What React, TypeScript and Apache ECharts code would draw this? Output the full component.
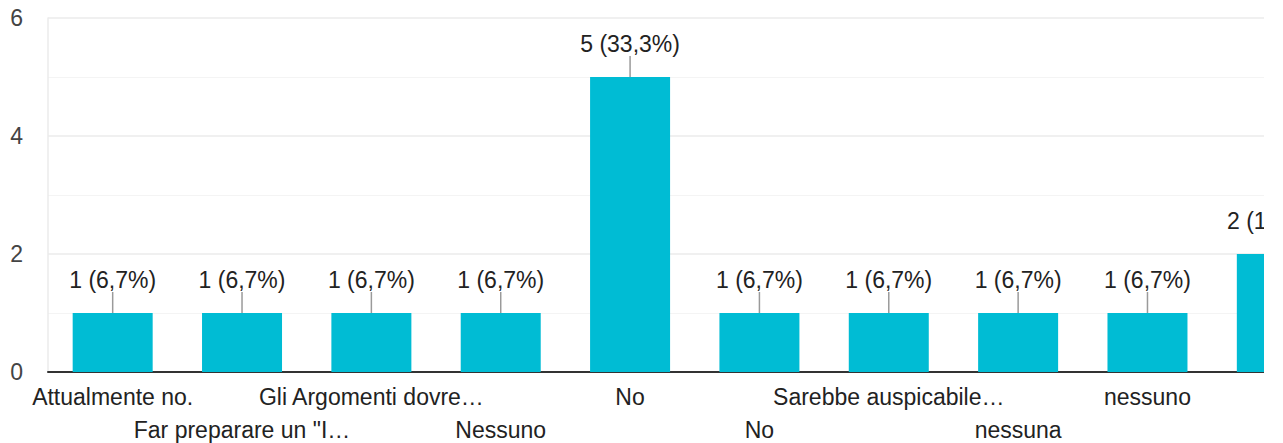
import React, { useEffect, useRef } from "react";
import * as echarts from "echarts";

const categories = [
  "Attualmente no.",
  'Far preparare un "I…',
  "Gli Argomenti dovre…",
  "Nessuno",
  "No",
  "No",
  "Sarebbe auspicabile…",
  "nessuna",
  "nessuno",
  "no",
];
const values = [1, 1, 1, 1, 5, 1, 1, 1, 1, 2];
const yTicks = [0, 2, 4, 6];

const FONT = "Arial, 'Liberation Sans', sans-serif";

export default function App() {
  const ref = useRef<HTMLDivElement>(null);
  useEffect(() => {
    if (!ref.current) return;
    const chart = echarts.init(ref.current, undefined, { renderer: "svg" });
    const total = values.reduce((a, b) => a + b, 0);
    const pct = (v: number) => ((v / total) * 100).toFixed(1).replace(".", ",");
    chart.setOption({
      animation: false,
      textStyle: { fontFamily: FONT },
      grid: {
        left: 48,
        right: 58.5,
        top: 18,
        bottom: 71,
        containLabel: false,
        outerBoundsMode: "none",
      },
      xAxis: {
        type: "category",
        data: categories,
        axisTick: { show: false },
        axisLine: { lineStyle: { color: "#333", width: 2 } },
        axisLabel: {
          interval: 0,
          color: "#222",
          fontSize: 23,
          fontFamily: FONT,
          lineHeight: 33,
          margin: 8,
          formatter: (v: string, i: number) => (i % 2 === 1 ? "\n" + v : v),
        },
      },
      yAxis: {
        type: "value",
        min: yTicks[0],
        max: yTicks[yTicks.length - 1],
        interval: 2,
        axisLine: { show: true, lineStyle: { color: "#ebebeb", width: 1.5 } },
        axisTick: { show: false },
        axisLabel: { color: "#444", fontSize: 23, fontFamily: FONT, margin: 25 },
        splitLine: { lineStyle: { color: "#ebebeb", width: 1.5 } },
        minorTick: { show: false, splitNumber: 2 },
        minorSplitLine: { show: true, lineStyle: { color: "#f4f4f4", width: 1 } },
      },
      series: [
        {
          type: "bar",
          data: values,
          barWidth: 80,
          itemStyle: { color: "#00BCD4" },
          label: {
            show: true,
            position: "top",
            distance: 22,
            color: "#222",
            fontSize: 23,
            fontFamily: FONT,
            formatter: (p: any) => `${p.value} (${pct(p.value)}%)`,
          },
          z: 2,
        },
        {
          type: "custom",
          data: values.map((v, i) => [i, v]),
          encode: { x: 0, y: 1 },
          z: 3,
          renderItem: (params: any, api: any) => {
            const pt = api.coord([api.value(0), api.value(1)]);
            return {
              type: "line",
              shape: { x1: pt[0], y1: pt[1], x2: pt[0], y2: pt[1] - 21 },
              style: { stroke: "#9a9a9a", lineWidth: 1.5 },
            };
          },
        },
      ],
    });
    return () => chart.dispose();
  }, []);
  return (
    <div
      style={{
        position: "absolute",
        left: 0,
        top: 0,
        width: 1264,
        height: 443,
        overflow: "hidden",
        background: "#fff",
      }}
    >
      <div ref={ref} style={{ width: 1400, height: 443 }} />
    </div>
  );
}
